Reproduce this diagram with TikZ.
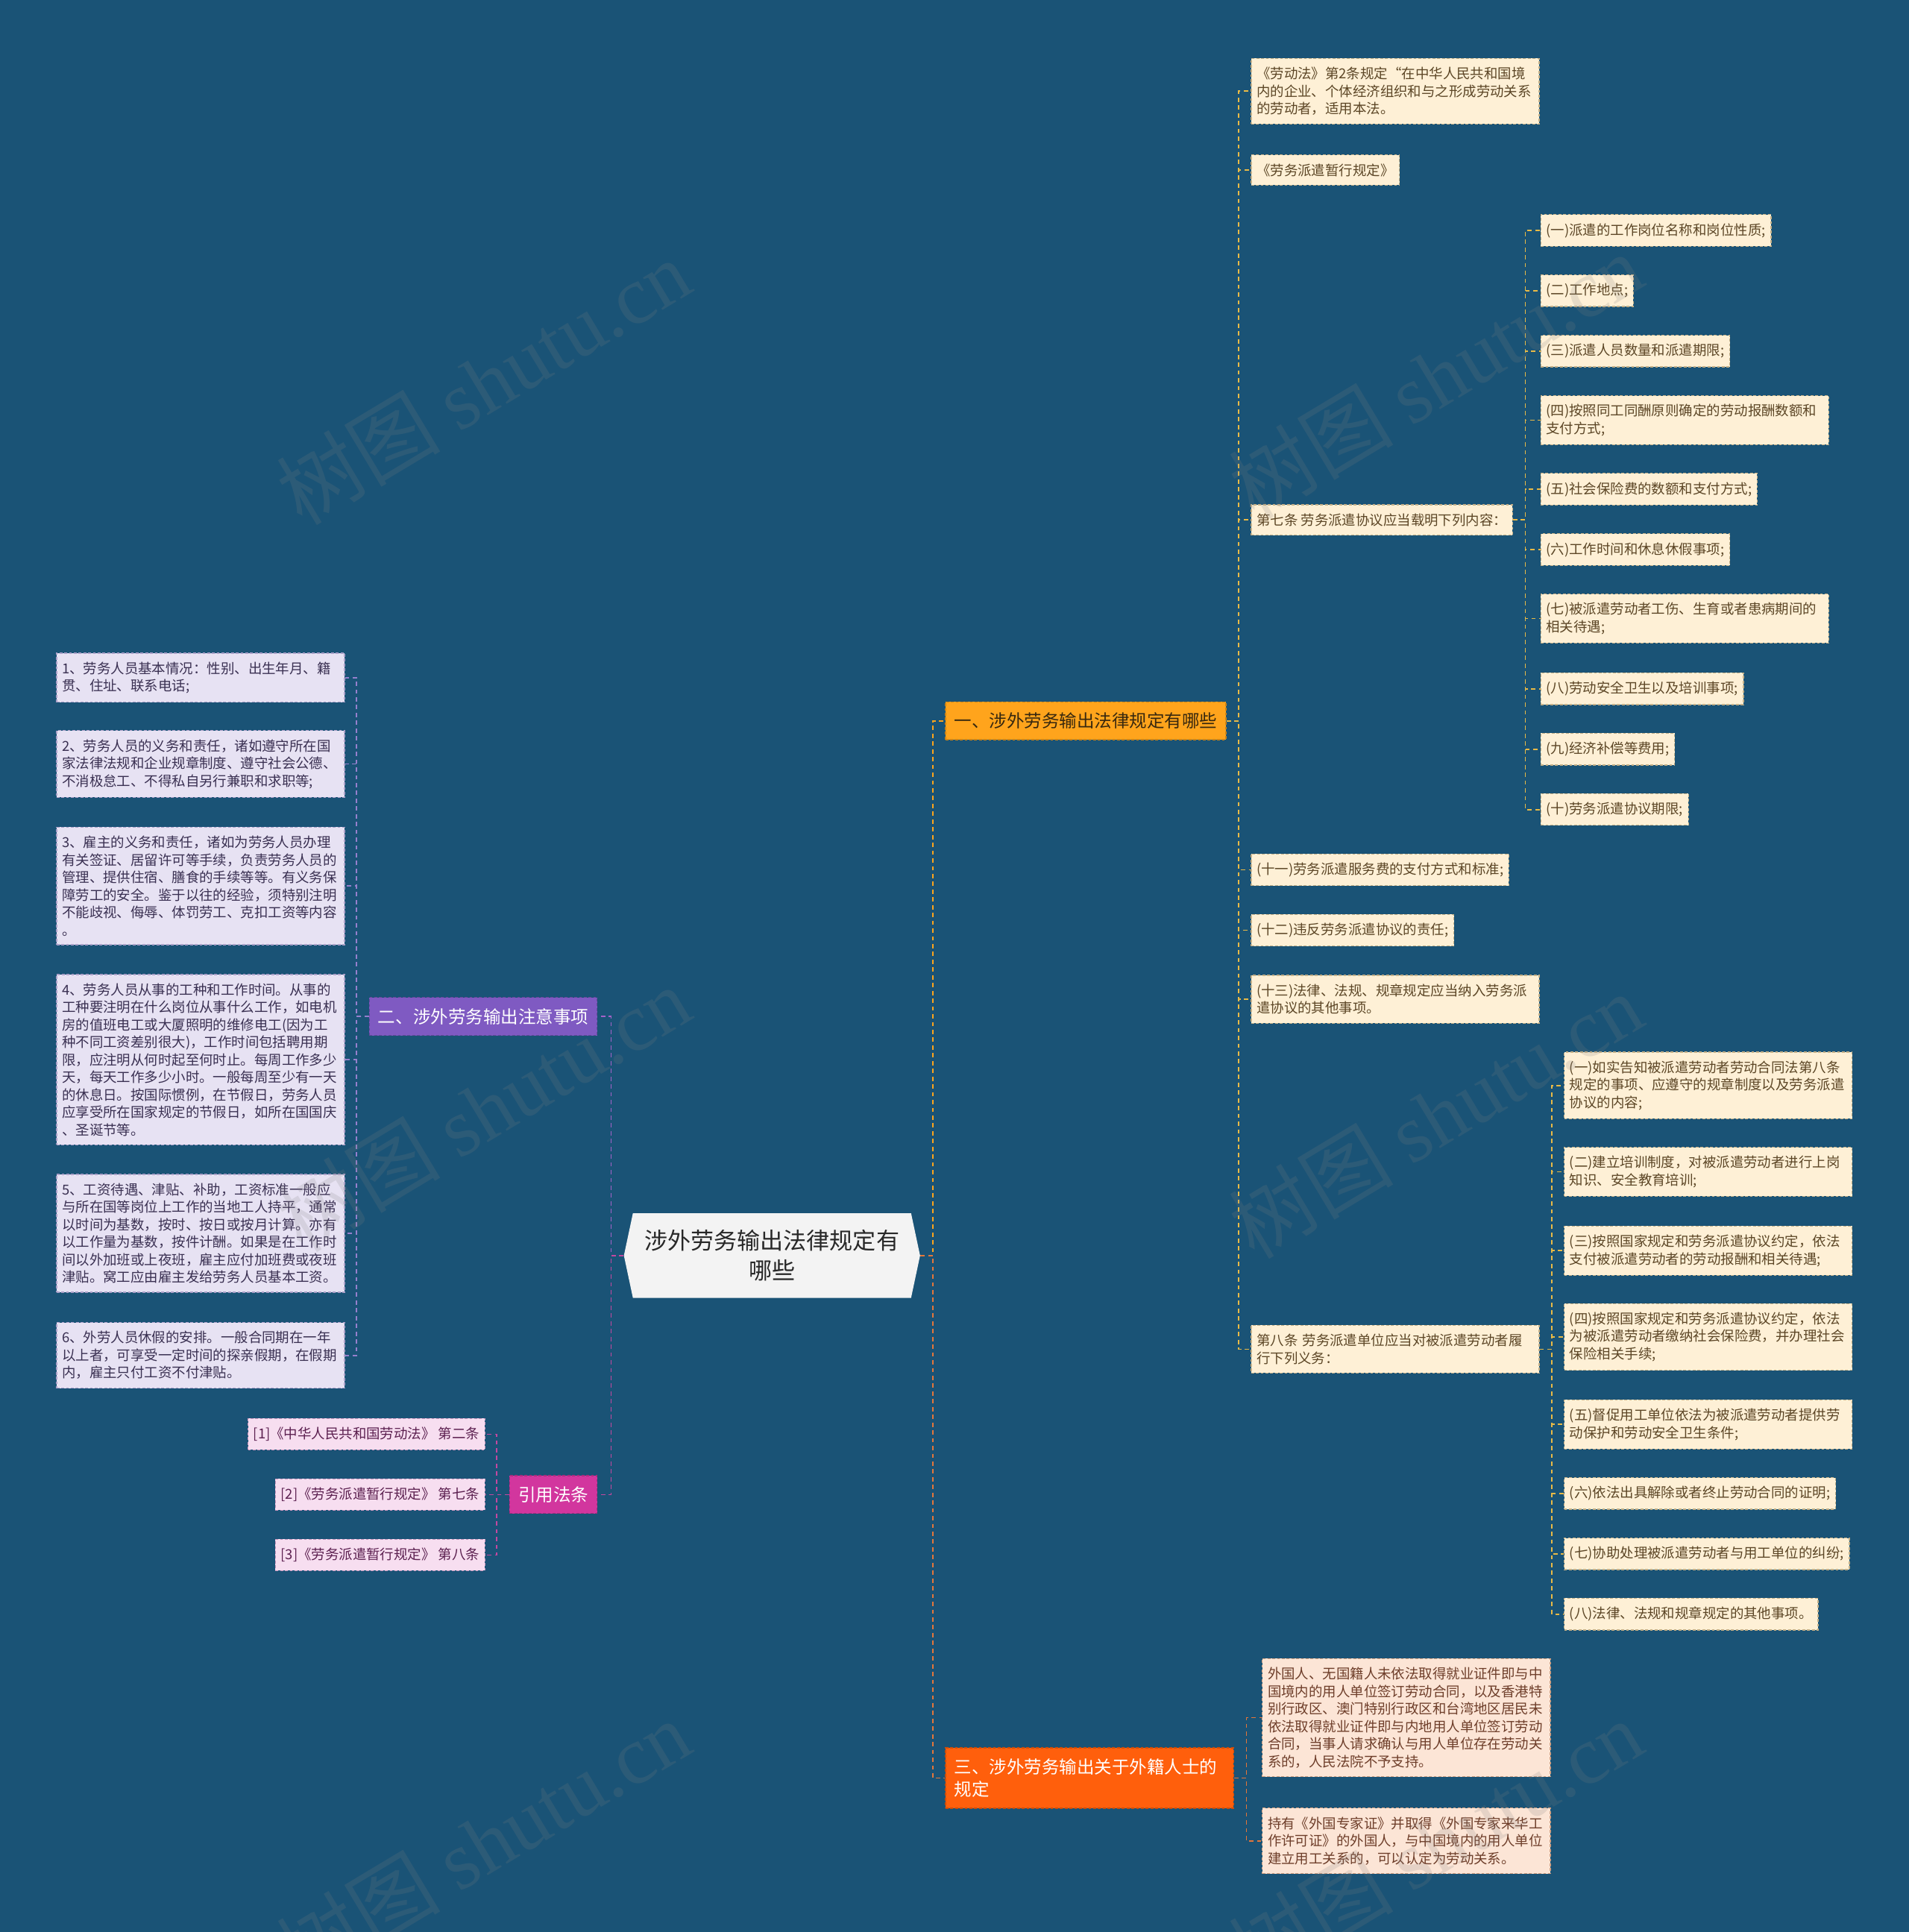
\documentclass[tikz,border=0pt]{standalone}
\usepackage{fontspec}
\setmainfont{Noto Sans CJK SC}
\newfontfamily\wmfont{Liberation Serif}
\usetikzlibrary{shapes.symbols}
\definecolor{MapBlue}{RGB}{26,83,118}
\definecolor{RootGray}{RGB}{243,243,243}
\definecolor{RootInk}{RGB}{40,40,40}
\definecolor{RuleAmber}{RGB}{255,164,28}
\definecolor{RuleInk}{RGB}{55,40,15}
\definecolor{CreamFill}{RGB}{254,240,214}
\definecolor{CreamInk}{RGB}{92,70,38}
\definecolor{CreamEdge}{RGB}{196,176,136}
\definecolor{GoldLink}{RGB}{233,186,70}
\definecolor{NotePurple}{RGB}{127,90,194}
\definecolor{NoteLink}{RGB}{164,98,200}
\definecolor{LavFill}{RGB}{231,226,243}
\definecolor{LavInk}{RGB}{58,48,82}
\definecolor{LavEdge}{RGB}{170,160,200}
\definecolor{LavLink}{RGB}{150,128,205}
\definecolor{AlienOrange}{RGB}{255,95,12}
\definecolor{PeachFill}{RGB}{252,229,214}
\definecolor{PeachInk}{RGB}{110,62,42}
\definecolor{PeachEdge}{RGB}{210,160,130}
\definecolor{PeachLink}{RGB}{228,118,58}
\definecolor{CiteMagenta}{RGB}{210,54,158}
\definecolor{PinkFill}{RGB}{247,222,240}
\definecolor{PinkInk}{RGB}{92,32,80}
\definecolor{PinkEdge}{RGB}{200,150,190}
\definecolor{PinkLink}{RGB}{196,72,160}

\begin{document}
\begin{tikzpicture}[x=0.02cm,y=-0.02cm,
  box/.style={dash pattern=on 1.3pt off 0.9pt,line width=0.45pt,
    inner xsep=2.5pt,inner ysep=4pt,align=left,
    font=\fontsize{6.35}{8.1}\selectfont},
  wide/.style={text width=128pt},
  rulebox/.style={box,draw=CreamEdge,fill=CreamFill,text=CreamInk},
  notebox/.style={box,draw=LavEdge,fill=LavFill,text=LavInk},
  alienbox/.style={box,draw=PeachEdge,fill=PeachFill,text=PeachInk},
  citebox/.style={box,draw=PinkEdge,fill=PinkFill,text=PinkInk},
  branch/.style={dash pattern=on 1.3pt off 0.9pt,line width=0.45pt,
    inner xsep=4pt,inner ysep=5pt,align=left,
    font=\fontsize{8.1}{10.3}\selectfont},
  link/.style={dash pattern=on 2pt off 1.6pt,line width=0.6pt},
  wm/.style={text=gray,opacity=0.18,rotate=31,font=\fontsize{38}{38}\selectfont}
]
\useasboundingbox (0,0) rectangle (1549,1568);
\fill[MapBlue] (0,0) rectangle (1549,1568);
\clip (0,0) rectangle (1549,1568);

% centre
\node[signal,signal to=east and west,signal pointer angle=156,
  fill=RootGray,text=RootInk,align=center,
  font=\fontsize{10.7}{13.9}\selectfont,inner xsep=5.4pt,inner ysep=7.6pt]
  (root) at (626.5,1019) {涉外劳务输出法律规定有\\哪些};

% main branches
\node[branch,anchor=west,fill=RuleAmber,draw=RuleAmber!80!black,text=RuleInk]
  (rule) at (767,585) {一、涉外劳务输出法律规定有哪些};
\node[branch,anchor=west,fill=AlienOrange,draw=AlienOrange!80!black,text=white,text width=125pt]
  (alien) at (767,1443) {三、涉外劳务输出关于外籍人士的\\规定};
\node[branch,anchor=east,fill=NotePurple,draw=NotePurple!80!black,text=white]
  (note) at (485,825) {二、涉外劳务输出注意事项};
\node[branch,anchor=east,fill=CiteMagenta,draw=CiteMagenta!80!black,text=white]
  (cite) at (485,1213) {引用法条};

% one
\node[rulebox,wide,anchor=west] (r1) at (1015,74) {《劳动法》第2条规定“在中华人民共和国境\\内的企业、个体经济组织和与之形成劳动关系\\的劳动者，适用本法。};
\node[rulebox,anchor=west] (r2) at (1015,138) {《劳务派遣暂行规定》};
\node[rulebox,anchor=west] (r3) at (1015,422) {第七条 劳务派遣协议应当载明下列内容：};
\node[rulebox,anchor=west] (r4) at (1015,706) {(十一)劳务派遣服务费的支付方式和标准;};
\node[rulebox,anchor=west] (r5) at (1015,755) {(十二)违反劳务派遣协议的责任;};
\node[rulebox,wide,anchor=west] (r6) at (1015,811) {(十三)法律、法规、规章规定应当纳入劳务派\\遣协议的其他事项。};
\node[rulebox,wide,anchor=west] (r7) at (1015,1095) {第八条 劳务派遣单位应当对被派遣劳动者履\\行下列义务：};

\node[rulebox,anchor=west] (s1) at (1250,187) {(一)派遣的工作岗位名称和岗位性质;};
\node[rulebox,anchor=west] (s2) at (1250,236) {(二)工作地点;};
\node[rulebox,anchor=west] (s3) at (1250,285) {(三)派遣人员数量和派遣期限;};
\node[rulebox,wide,anchor=west] (s4) at (1250,341) {(四)按照同工同酬原则确定的劳动报酬数额和\\支付方式;};
\node[rulebox,anchor=west] (s5) at (1250,397) {(五)社会保险费的数额和支付方式;};
\node[rulebox,anchor=west] (s6) at (1250,446) {(六)工作时间和休息休假事项;};
\node[rulebox,wide,anchor=west] (s7) at (1250,502) {(七)被派遣劳动者工伤、生育或者患病期间的\\相关待遇;};
\node[rulebox,anchor=west] (s8) at (1250,559) {(八)劳动安全卫生以及培训事项;};
\node[rulebox,anchor=west] (s9) at (1250,608) {(九)经济补偿等费用;};
\node[rulebox,anchor=west] (s10) at (1250,657) {(十)劳务派遣协议期限;};

\node[rulebox,wide,anchor=west] (d1) at (1269,881) {(一)如实告知被派遣劳动者劳动合同法第八条\\规定的事项、应遵守的规章制度以及劳务派遣\\协议的内容;};
\node[rulebox,wide,anchor=west] (d2) at (1269,951) {(二)建立培训制度，对被派遣劳动者进行上岗\\知识、安全教育培训;};
\node[rulebox,wide,anchor=west] (d3) at (1269,1015) {(三)按照国家规定和劳务派遣协议约定，依法\\支付被派遣劳动者的劳动报酬和相关待遇;};
\node[rulebox,wide,anchor=west] (d4) at (1269,1085) {(四)按照国家规定和劳务派遣协议约定，依法\\为被派遣劳动者缴纳社会保险费，并办理社会\\保险相关手续;};
\node[rulebox,wide,anchor=west] (d5) at (1269,1156) {(五)督促用工单位依法为被派遣劳动者提供劳\\动保护和劳动安全卫生条件;};
\node[rulebox,anchor=west] (d6) at (1269,1212) {(六)依法出具解除或者终止劳动合同的证明;};
\node[rulebox,anchor=west] (d7) at (1269,1261) {(七)协助处理被派遣劳动者与用工单位的纠纷;};
\node[rulebox,anchor=west] (d8) at (1269,1310) {(八)法律、法规和规章规定的其他事项。};

% three
\node[alienbox,wide,anchor=west] (f1) at (1024,1394) {外国人、无国籍人未依法取得就业证件即与中\\国境内的用人单位签订劳动合同，以及香港特\\别行政区、澳门特别行政区和台湾地区居民未\\依法取得就业证件即与内地用人单位签订劳动\\合同，当事人请求确认与用人单位存在劳动关\\系的，人民法院不予支持。};
\node[alienbox,wide,anchor=west] (f2) at (1024,1494) {持有《外国专家证》并取得《外国专家来华工\\作许可证》的外国人，与中国境内的用人单位\\建立用工关系的，可以认定为劳动关系。};

% two
\node[notebox,wide,anchor=east] (n1) at (280,550) {1、劳务人员基本情况：性别、出生年月、籍\\贯、住址、联系电话;};
\node[notebox,wide,anchor=east] (n2) at (280,620) {2、劳务人员的义务和责任，诸如遵守所在国\\家法律法规和企业规章制度、遵守社会公德、\\不消极怠工、不得私自另行兼职和求职等;};
\node[notebox,wide,anchor=east] (n3) at (280,719) {3、雇主的义务和责任，诸如为劳务人员办理\\有关签证、居留许可等手续，负责劳务人员的\\管理、提供住宿、膳食的手续等等。有义务保\\障劳工的安全。鉴于以往的经验，须特别注明\\不能歧视、侮辱、体罚劳工、克扣工资等内容\\。};
\node[notebox,wide,anchor=east] (n4) at (280,860) {4、劳务人员从事的工种和工作时间。从事的\\工种要注明在什么岗位从事什么工作，如电机\\房的值班电工或大厦照明的维修电工(因为工\\种不同工资差别很大)，工作时间包括聘用期\\限，应注明从何时起至何时止。每周工作多少\\天，每天工作多少小时。一般每周至少有一天\\的休息日。按国际惯例，在节假日，劳务人员\\应享受所在国家规定的节假日，如所在国国庆\\、圣诞节等。};
\node[notebox,wide,anchor=east] (n5) at (280,1001) {5、工资待遇、津贴、补助，工资标准一般应\\与所在国等岗位上工作的当地工人持平，通常\\以时间为基数，按时、按日或按月计算。亦有\\以工作量为基数，按件计酬。如果是在工作时\\间以外加班或上夜班，雇主应付加班费或夜班\\津贴。窝工应由雇主发给劳务人员基本工资。};
\node[notebox,wide,anchor=east] (n6) at (280,1100) {6、外劳人员休假的安排。一般合同期在一年\\以上者，可享受一定时间的探亲假期，在假期\\内，雇主只付工资不付津贴。};

% citations
\node[citebox,anchor=east] (k1) at (394,1164) {[1]《中华人民共和国劳动法》 第二条};
\node[citebox,anchor=east] (k2) at (394,1213) {[2]《劳务派遣暂行规定》 第七条};
\node[citebox,anchor=east] (k3) at (394,1262) {[3]《劳务派遣暂行规定》 第八条};

% links
\draw[link,RuleAmber] (root.east) -- ++(10,0) |- (rule.west);
\draw[link,PeachLink] (root.east) -- ++(10,0) |- (alien.west);
\draw[link,NoteLink] (root.west) -- ++(-10,0) |- (note.east);
\draw[link,PinkLink] (root.west) -- ++(-10,0) |- (cite.east);

\draw[link,GoldLink] (rule.east) -- ++(10,0) |- (r1.west);
\draw[link,GoldLink] (rule.east) -- ++(10,0) |- (r2.west);
\draw[link,GoldLink] (rule.east) -- ++(10,0) |- (r3.west);
\draw[link,GoldLink] (rule.east) -- ++(10,0) |- (r4.west);
\draw[link,GoldLink] (rule.east) -- ++(10,0) |- (r5.west);
\draw[link,GoldLink] (rule.east) -- ++(10,0) |- (r6.west);
\draw[link,GoldLink] (rule.east) -- ++(10,0) |- (r7.west);

\draw[link,GoldLink] (r3.east) -- ++(10,0) |- (s1.west);
\draw[link,GoldLink] (r3.east) -- ++(10,0) |- (s2.west);
\draw[link,GoldLink] (r3.east) -- ++(10,0) |- (s3.west);
\draw[link,GoldLink] (r3.east) -- ++(10,0) |- (s4.west);
\draw[link,GoldLink] (r3.east) -- ++(10,0) |- (s5.west);
\draw[link,GoldLink] (r3.east) -- ++(10,0) |- (s6.west);
\draw[link,GoldLink] (r3.east) -- ++(10,0) |- (s7.west);
\draw[link,GoldLink] (r3.east) -- ++(10,0) |- (s8.west);
\draw[link,GoldLink] (r3.east) -- ++(10,0) |- (s9.west);
\draw[link,GoldLink] (r3.east) -- ++(10,0) |- (s10.west);

\draw[link,GoldLink] (r7.east) -- ++(10,0) |- (d1.west);
\draw[link,GoldLink] (r7.east) -- ++(10,0) |- (d2.west);
\draw[link,GoldLink] (r7.east) -- ++(10,0) |- (d3.west);
\draw[link,GoldLink] (r7.east) -- ++(10,0) |- (d4.west);
\draw[link,GoldLink] (r7.east) -- ++(10,0) |- (d5.west);
\draw[link,GoldLink] (r7.east) -- ++(10,0) |- (d6.west);
\draw[link,GoldLink] (r7.east) -- ++(10,0) |- (d7.west);
\draw[link,GoldLink] (r7.east) -- ++(10,0) |- (d8.west);

\draw[link,PeachLink] (alien.east) -- ++(10,0) |- (f1.west);
\draw[link,PeachLink] (alien.east) -- ++(10,0) |- (f2.west);

\draw[link,LavLink] (note.west) -- ++(-10,0) |- (n1.east);
\draw[link,LavLink] (note.west) -- ++(-10,0) |- (n2.east);
\draw[link,LavLink] (note.west) -- ++(-10,0) |- (n3.east);
\draw[link,LavLink] (note.west) -- ++(-10,0) |- (n4.east);
\draw[link,LavLink] (note.west) -- ++(-10,0) |- (n5.east);
\draw[link,LavLink] (note.west) -- ++(-10,0) |- (n6.east);

\draw[link,PinkLink] (cite.west) -- ++(-10,0) |- (k1.east);
\draw[link,PinkLink] (cite.west) -- ++(-10,0) |- (k2.east);
\draw[link,PinkLink] (cite.west) -- ++(-10,0) |- (k3.east);

% watermark
\node[wm] at (392,310) {树图 {\wmfont shutu.cn}};
\node[wm] at (1165,305) {树图 {\wmfont shutu.cn}};
\node[wm] at (392,900) {树图 {\wmfont shutu.cn}};
\node[wm] at (1165,905) {树图 {\wmfont shutu.cn}};
\node[wm] at (392,1495) {树图 {\wmfont shutu.cn}};
\node[wm] at (1165,1495) {树图 {\wmfont shutu.cn}};
\end{tikzpicture}
\end{document}
